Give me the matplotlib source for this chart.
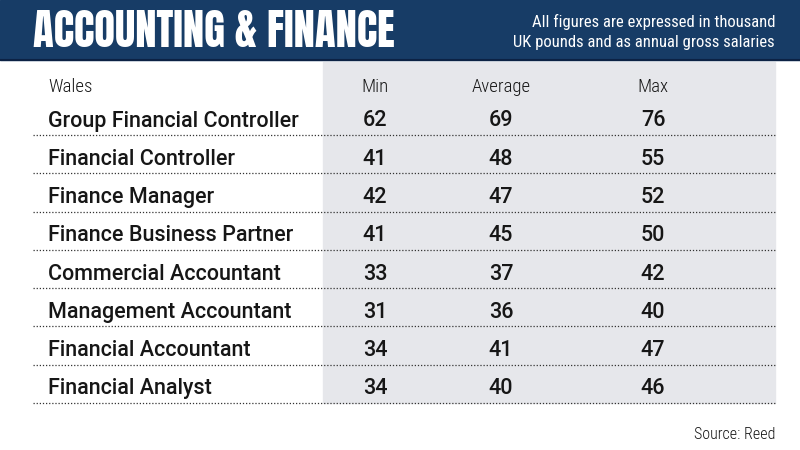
import matplotlib
matplotlib.use('Agg')
import matplotlib.pyplot as plt
from matplotlib.patches import Rectangle

# Table data
title = 'ACCOUNTING & FINANCE'
subtitle = ['All figures are expressed in thousand',
            'UK pounds and as annual gross salaries']
region_label = 'Wales'
columns = ['Min', 'Average', 'Max']
roles = ['Group Financial Controller', 'Financial Controller', 'Finance Manager',
         'Finance Business Partner', 'Commercial Accountant', 'Management Accountant',
         'Financial Accountant', 'Financial Analyst']
min_vals = [62, 41, 42, 41, 33, 31, 34, 34]
avg_vals = [69, 48, 47, 45, 37, 36, 41, 40]
max_vals = [76, 55, 52, 50, 42, 40, 47, 46]
source = 'Source: Reed'

navy = '#173c66'
grey = '#e6e7eb'
ink = '#161616'
narrow = ['Roboto Condensed', 'Sofia Sans Condensed', 'DejaVu Sans']
body = ['Roboto', 'DejaVu Sans']
heavy = ['Anton', 'Oswald', 'Saira ExtraCondensed', 'DejaVu Sans']

fig = plt.figure(figsize=(8, 4.5), dpi=100)
ax = fig.add_axes([0, 0, 1, 1])
ax.set_xlim(0, 800)
ax.set_ylim(450, 0)
ax.axis('off')

# header banner
ax.add_patch(Rectangle((0, 0), 800, 60, color=navy, zorder=1))
ax.plot([0, 800], [60.3, 60.3], color='#0c2244', lw=1.5, zorder=2)
ax.text(33, 47, title, color='white', fontsize=30.7, family=heavy,
        va='baseline', ha='left')
ax.text(775, 27.3, subtitle[0], color='white', fontsize=12, family=narrow,
        va='baseline', ha='right')
ax.text(775, 46.7, subtitle[1], color='white', fontsize=12, family=narrow,
        va='baseline', ha='right')

# grey panel behind the number columns
ax.add_patch(Rectangle((323, 62), 452, 341, color=grey, zorder=0))

col_x = [375, 501, 653]
ax.text(48, 92.5, region_label, fontsize=13.5, color=ink, family=narrow,
        fontweight='light', va='baseline')
for cx, c in zip(col_x, columns):
    ax.text(cx, 92.5, c, fontsize=13.5, color=ink, family=narrow, fontweight='light',
            va='baseline', ha='center')

row_h = 38.25
y0 = 126.5
for i, role in enumerate(roles):
    yb = y0 + i * row_h
    ax.text(48, yb, role, fontsize=15.5, color=ink, family=body,
            fontweight='medium', va='baseline')
    for cx, v in zip(col_x, [min_vals[i], avg_vals[i], max_vals[i]]):
        ax.text(cx, yb, str(v), fontsize=15.5, color=ink, family=body,
                fontweight='medium', va='baseline', ha='center')
    ax.plot([33, 775], [yb + 8.5, yb + 8.5], color='#333333', lw=0.9,
            linestyle=(0, (1, 1.5)), zorder=2)

ax.text(775, 439.3, source, fontsize=11.5, color=ink, family=narrow,
        fontweight='light', va='baseline', ha='right')

fig.savefig('out.png', dpi=100)
